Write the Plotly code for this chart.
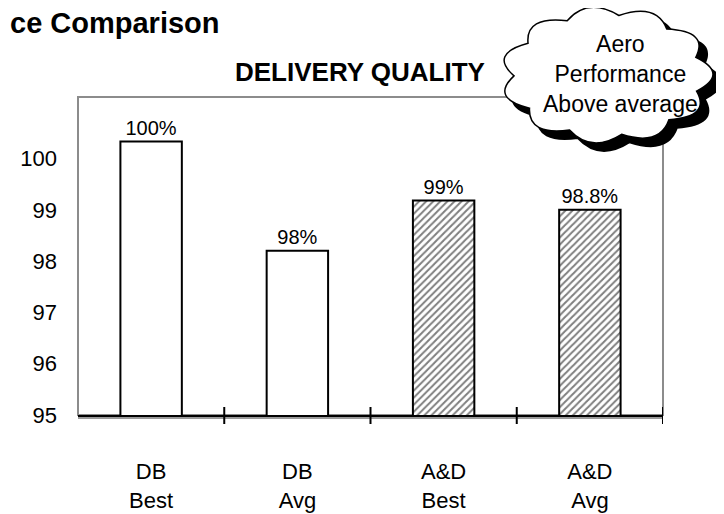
import numpy as np
import plotly.graph_objects as go

categories = ["DB<br>Best", "DB<br>Avg", "A&D<br>Best", "A&D<br>Avg"]
values = [100.33, 98.2, 99.18, 99.0]
value_labels = ["100%", "98%", "99%", "98.8%"]
patterns = ["", "", "/", "/"]
y_ticks = [95, 96, 97, 98, 99, 100]

# the page adds an 8px body margin, so the figure is 8px smaller and
# positions below are given in page pixels and shifted back by OFF
OFF = 8
W, H = 724 - OFF, 514 - OFF
L, R, T, B = 78 - OFF, 61, 97 - OFF, 99  # plot box on page: 78..663 x 97..415
PW, PH = W - L - R, H - T - B


def px2paper(x, y):
    return (x - OFF - L) / PW, (H - B - (y - OFF)) / PH


def cloud_path(cx, cy, rx, ry, n=11, bulge=1.32, start=0.3):
    ang = start + np.linspace(0, 2 * np.pi, n + 1)
    pts = [(cx + rx * np.cos(a), cy - ry * np.sin(a)) for a in ang]
    mids = [(cx + rx * bulge * np.cos(a + np.pi / n), cy - ry * bulge * np.sin(a + np.pi / n)) for a in ang[:-1]]
    x0, y0 = px2paper(*pts[0])
    d = f"M {x0:.4f},{y0:.4f}"
    for i in range(n):
        qx, qy = px2paper(*mids[i])
        ex, ey = px2paper(*pts[i + 1])
        d += f" Q {qx:.4f},{qy:.4f} {ex:.4f},{ey:.4f}"
    return d + " Z"


fig = go.Figure(
    go.Bar(
        x=categories,
        y=values,
        width=0.42,
        text=value_labels,
        textposition="outside",
        textfont=dict(size=20, color="black"),
        cliponaxis=False,
        marker=dict(
            color="white",
            line=dict(color="black", width=2),
            pattern=dict(shape=patterns, fgcolor="black", bgcolor="white", size=5, solidity=0.4),
        ),
    )
)

shapes = [
    dict(type="rect", xref="paper", yref="paper", x0=0, x1=1, y0=0, y1=1,
         line=dict(color="#8c8c8c", width=2), layer="below"),
    dict(type="line", xref="paper", yref="paper", x0=0, x1=1, y0=-3 / PH, y1=-3 / PH,
         line=dict(color="#9a9a9a", width=2)),
]
# crossing tick marks at the category boundaries
for i in range(len(categories)):
    shapes.append(dict(type="line", xref="x", yref="paper", x0=i + 0.5, x1=i + 0.5,
                       y0=-9 / PH, y1=8 / PH, line=dict(color="black", width=2)))
# callout cloud with its shadow
shapes.append(dict(type="path", xref="paper", yref="paper", path=cloud_path(615, 83, 93, 60),
                   fillcolor="black", line=dict(color="black", width=2), layer="above"))
shapes.append(dict(type="path", xref="paper", yref="paper", path=cloud_path(607, 75, 93, 60),
                   fillcolor="white", line=dict(color="black", width=1.5), layer="above"))

tx, ty = px2paper(360, 72)
hx, hy = px2paper(OFF, 23)
cx, cy = px2paper(620, 74)
annotations = [
    dict(text="<b>DELIVERY QUALITY</b>", x=tx, y=ty, xref="paper", yref="paper",
         xanchor="center", yanchor="middle", showarrow=False, font=dict(size=26, color="black")),
    dict(text="<b>ce Comparison</b>", x=hx, y=hy, xref="paper", yref="paper",
         xanchor="left", yanchor="middle", showarrow=False, font=dict(size=29, color="black")),
    dict(text="Aero<br>Performance<br>Above average", x=cx, y=cy, xref="paper", yref="paper",
         xanchor="center", yanchor="middle", showarrow=False, font=dict(size=23, color="black")),
]

fig.update_layout(
    width=W, height=H,
    margin=dict(l=L, r=R, t=T, b=B),
    paper_bgcolor="white", plot_bgcolor="white",
    font=dict(family="Arial, Liberation Sans, sans-serif", color="black"),
    showlegend=False,
    shapes=shapes,
    annotations=annotations,
    xaxis=dict(showline=True, linecolor="black", linewidth=2, ticks="", showgrid=False, automargin=False,
               tickfont=dict(size=22), ticklabelstandoff=36, range=[-0.5, 3.5]),
    yaxis=dict(range=[95, 95 + 6.2], tickvals=y_ticks, ticks="", showgrid=False, zeroline=False,
               showline=False, automargin=False, tickfont=dict(size=22), ticklabelstandoff=20),
)

fig.write_html("out.html")
